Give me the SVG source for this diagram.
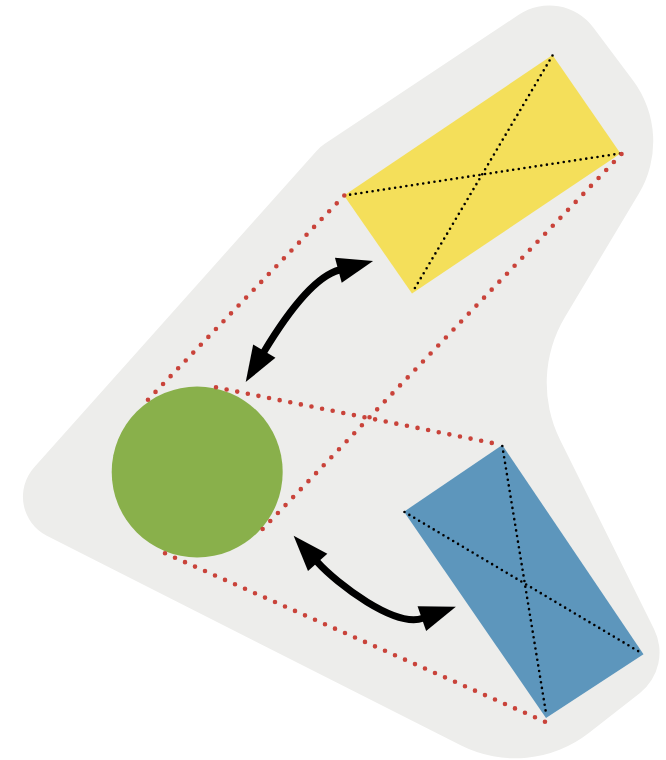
<svg xmlns="http://www.w3.org/2000/svg" width="666" height="760" viewBox="0 0 666 760">
  <style>
    .red { fill: none; stroke: #c9433a; stroke-width: 4.6; stroke-linecap: round; }
    .diag { fill: none; stroke: #000; stroke-width: 2.6; stroke-linecap: round; }
    .arrow { fill: none; stroke: #000; stroke-width: 7; }
  </style>
  <defs>
    <marker id="ah" markerUnits="userSpaceOnUse" markerWidth="40" markerHeight="30" refX="1" refY="13" orient="auto-start-reverse" overflow="visible">
      <path d="M0,0 L36,13 L0,26 Z" fill="#000"/>
    </marker>
  </defs>
  <rect width="666" height="760" fill="#fff"/>
  <path id="background" fill="#ededeb" d="M324.4,144.1 L518.7,14.8 A55,55 0 0 1 593.3,27.5 L632.7,80 A102,102 0 0 1 638.6,194 L565,317 A128,128 0 0 0 560,439.7 L654,629 A52,52 0 0 1 640,693 L588.8,733 A120,120 0 0 1 461.2,745.6 L46.8,535.8 A44,44 0 0 1 34,467.5 L316.5,151 A40,40 0 0 1 324.4,144.1 Z"/>
  <g id="yellow-rect">
    <polygon points="552.5,55 620.5,153.5 412,293.5 344,195.5" fill="#f4df5a"/>
    <line class="diag" x1="344.5" y1="195.5" x2="620" y2="153.5" stroke-dasharray="0 5.687"/>
    <line class="diag" x1="552.5" y1="55.5" x2="412" y2="293" stroke-dasharray="0 5.749"/>
  </g>
  <g id="green-circle">
    <circle cx="197.2" cy="472" r="85.5" fill="#89b04b"/>
  </g>
  <g id="blue-rect">
    <polygon points="502.3,445 643.5,654.3 546,718 404,511.7" fill="#5d96bc"/>
    <line class="diag" x1="502.3" y1="446" x2="546.5" y2="716" stroke-dasharray="0 5.70"/>
    <line class="diag" x1="404.5" y1="512" x2="643" y2="654" stroke-dasharray="0 5.665"/>
  </g>
  <g id="connectors">
    <line class="red" x1="344.3" y1="195.5" x2="140.5" y2="407.5" stroke-dasharray="0 10.896"/>
    <line class="red" x1="621.5" y1="154" x2="255" y2="537" stroke-dasharray="0 11.044"/>
    <line class="red" x1="216" y1="387.3" x2="502.3" y2="445" stroke-dasharray="0 10.82"/>
    <line class="red" x1="165" y1="553.3" x2="545" y2="721.7" stroke-dasharray="0 10.937"/>
    <path class="arrow" d="M263.8,352 C279.3,326.3 310.3,277.8 339.3,270" marker-start="url(#ah)" marker-end="url(#ah)"/>
    <path class="arrow" d="M317,561.7 C337,584 395,628 422.8,618.3" marker-start="url(#ah)" marker-end="url(#ah)"/>
  </g>
</svg>
